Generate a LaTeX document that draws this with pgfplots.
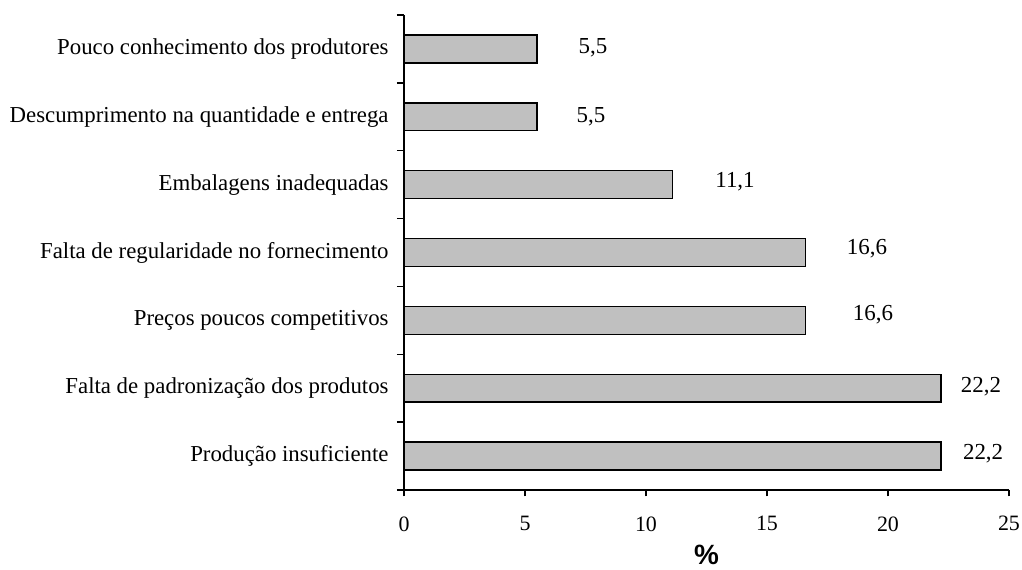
\documentclass[border=0pt]{standalone}
\usepackage{pgfplots}
\pgfplotsset{compat=1.18}
\usepackage{fontspec}
\setmainfont{Liberation Serif}
\newfontfamily\arialfont{Liberation Sans}
\definecolor{BarGray}{HTML}{C0C0C0}

\pgfplotstableread{
y  v
0  22.2
1  22.2
2  16.6
3  16.6
4  11.1
5  5.5
6  5.5
}\bars

% label centres (x) and rows (y)
\pgfplotstableread{
x      y      lab
23.93  0.04   22,2
23.84  1.03   22,2
19.38  2.09   16,6
19.13  3.06   16,6
13.68  4.04   11,1
7.73   5.00   5,5
7.81   6.02   5,5
}\labs

\begin{document}
\begin{tikzpicture}
\useasboundingbox (-202bp,-40bp) rectangle (309bp,245bp);
\begin{axis}[
  scale only axis,
  width=302.5bp, height=237.5bp,
  xmin=0, xmax=25, ymin=-0.5, ymax=6.5,
  xtick={0,5,...,25},
  ytick={0,...,6},
  yticklabels={Produção insuficiente, Falta de padronização dos produtos, Preços poucos competitivos, Falta de regularidade no fornecimento, Embalagens inadequadas, Descumprimento na quantidade e entrega, Pouco conhecimento dos produtores},
  minor ytick={-0.5,0.5,...,6.5},
  major y tick style={draw=none},
  axis x line*=bottom, axis y line*=left,
  axis line style={line width=0.75bp, -},
  tick align=outside, tick pos=left,
  major tick length=3.2bp, minor tick length=3.5bp,
  tick style={line width=0.75bp, black},
  xticklabel style={font=\fontsize{11}{13}\selectfont, yshift=-6.5bp},
  yticklabel style={font=\fontsize{11.45}{13}\selectfont, xshift=-1bp},
  /pgf/number format/assume math mode=true,
  xlabel={\arialfont\bfseries\fontsize{14}{16}\selectfont\%},
  xlabel style={yshift=-2.5bp, inner sep=1bp},
  clip=false,
]
\addplot[xbar, bar width=0.41, fill=BarGray, draw=black, line width=0.75bp] table[x=v, y=y] {\bars};
\addplot[draw=none, mark=none, nodes near coords, point meta=explicit symbolic,
  nodes near coords align={center},
  every node near coord/.append style={font=\fontsize{11.5}{13}\selectfont, anchor=center}]
  table[x=x, y=y, meta=lab] {\labs};
\end{axis}
\end{tikzpicture}
\end{document}
